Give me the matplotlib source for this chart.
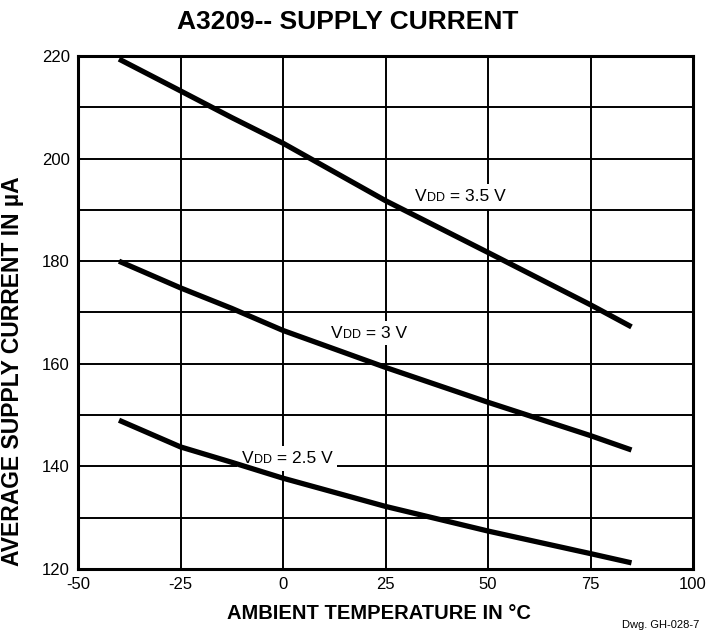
import numpy as np
import matplotlib
matplotlib.use("Agg")
import matplotlib.pyplot as plt
from matplotlib.offsetbox import TextArea, HPacker, AnnotationBbox

plt.rcParams['font.family'] = ['Liberation Sans', 'DejaVu Sans']
plt.rcParams['axes.unicode_minus'] = False

# temperatures (deg C) and average supply current (uA)
temp = [-40, -25, -12.5, 0, 25, 50, 75, 85]
i_35 = [219.4, 213.2, 208.0, 203.0, 191.8, 181.7, 171.5, 167.2]
i_30 = [180.0, 174.8, 170.8, 166.5, 159.3, 152.5, 146.0, 143.2]
i_25 = [149.0, 143.8, 140.8, 137.7, 132.2, 127.4, 123.0, 121.2]

curves = [(i_35, "3.5 V", (43.2, 192.6)),
          (i_30, "3 V", (21.0, 166.0)),
          (i_25, "2.5 V", (1.0, 141.6))]

xticks = [-50, -25, 0, 25, 50, 75, 100]
yticks = [120, 140, 160, 180, 200, 220]

fig = plt.figure(figsize=(7.06, 6.38), dpi=100)
ax = fig.add_axes([78/706, 1-569/638, 615/706, 513/638])

for vals, vtxt, pos in curves:
    ax.plot(temp, vals, color='black', lw=3.8, solid_capstyle='butt', zorder=4)
    parts = [TextArea("V", textprops=dict(fontsize=12.5)),
             TextArea("DD", textprops=dict(fontsize=9)),
             TextArea(" = " + vtxt, textprops=dict(fontsize=12.5))]
    box = HPacker(children=parts, align="baseline", pad=0, sep=0)
    ab = AnnotationBbox(box, pos, frameon=True, pad=0.35,
                        bboxprops=dict(facecolor='white', edgecolor='none'))
    ab.set_zorder(3)
    ax.add_artist(ab)

ax.set_xlim(-50, 100)
ax.set_ylim(120, 220)
ax.set_xticks(xticks)
ax.set_yticks(yticks)
ax.set_yticks(np.arange(130, 220, 20), minor=True)
ax.grid(which='both', color='black', lw=1.4, zorder=1)
ax.set_axisbelow(True)
ax.tick_params(which='both', length=0, labelsize=12, pad=6)
for s in ax.spines.values():
    s.set_linewidth(2.2)

fig.text(348/706, 1-22/638, "A3209-- SUPPLY CURRENT", fontsize=19, fontweight='bold',
         ha='center', va='center')
ax.set_xlabel("AMBIENT TEMPERATURE IN °C", fontsize=14.5, fontweight='bold')
ax.xaxis.set_label_coords(0.49, -0.068)
ax.set_ylabel("AVERAGE SUPPLY CURRENT IN µA", fontsize=16.5, fontweight='bold')
ax.yaxis.set_label_coords(-0.087, 0.385)
fig.text(0.99, 0.012, "Dwg. GH-028-7", fontsize=8, ha='right', va='bottom')

fig.savefig("out.png", dpi=100)
